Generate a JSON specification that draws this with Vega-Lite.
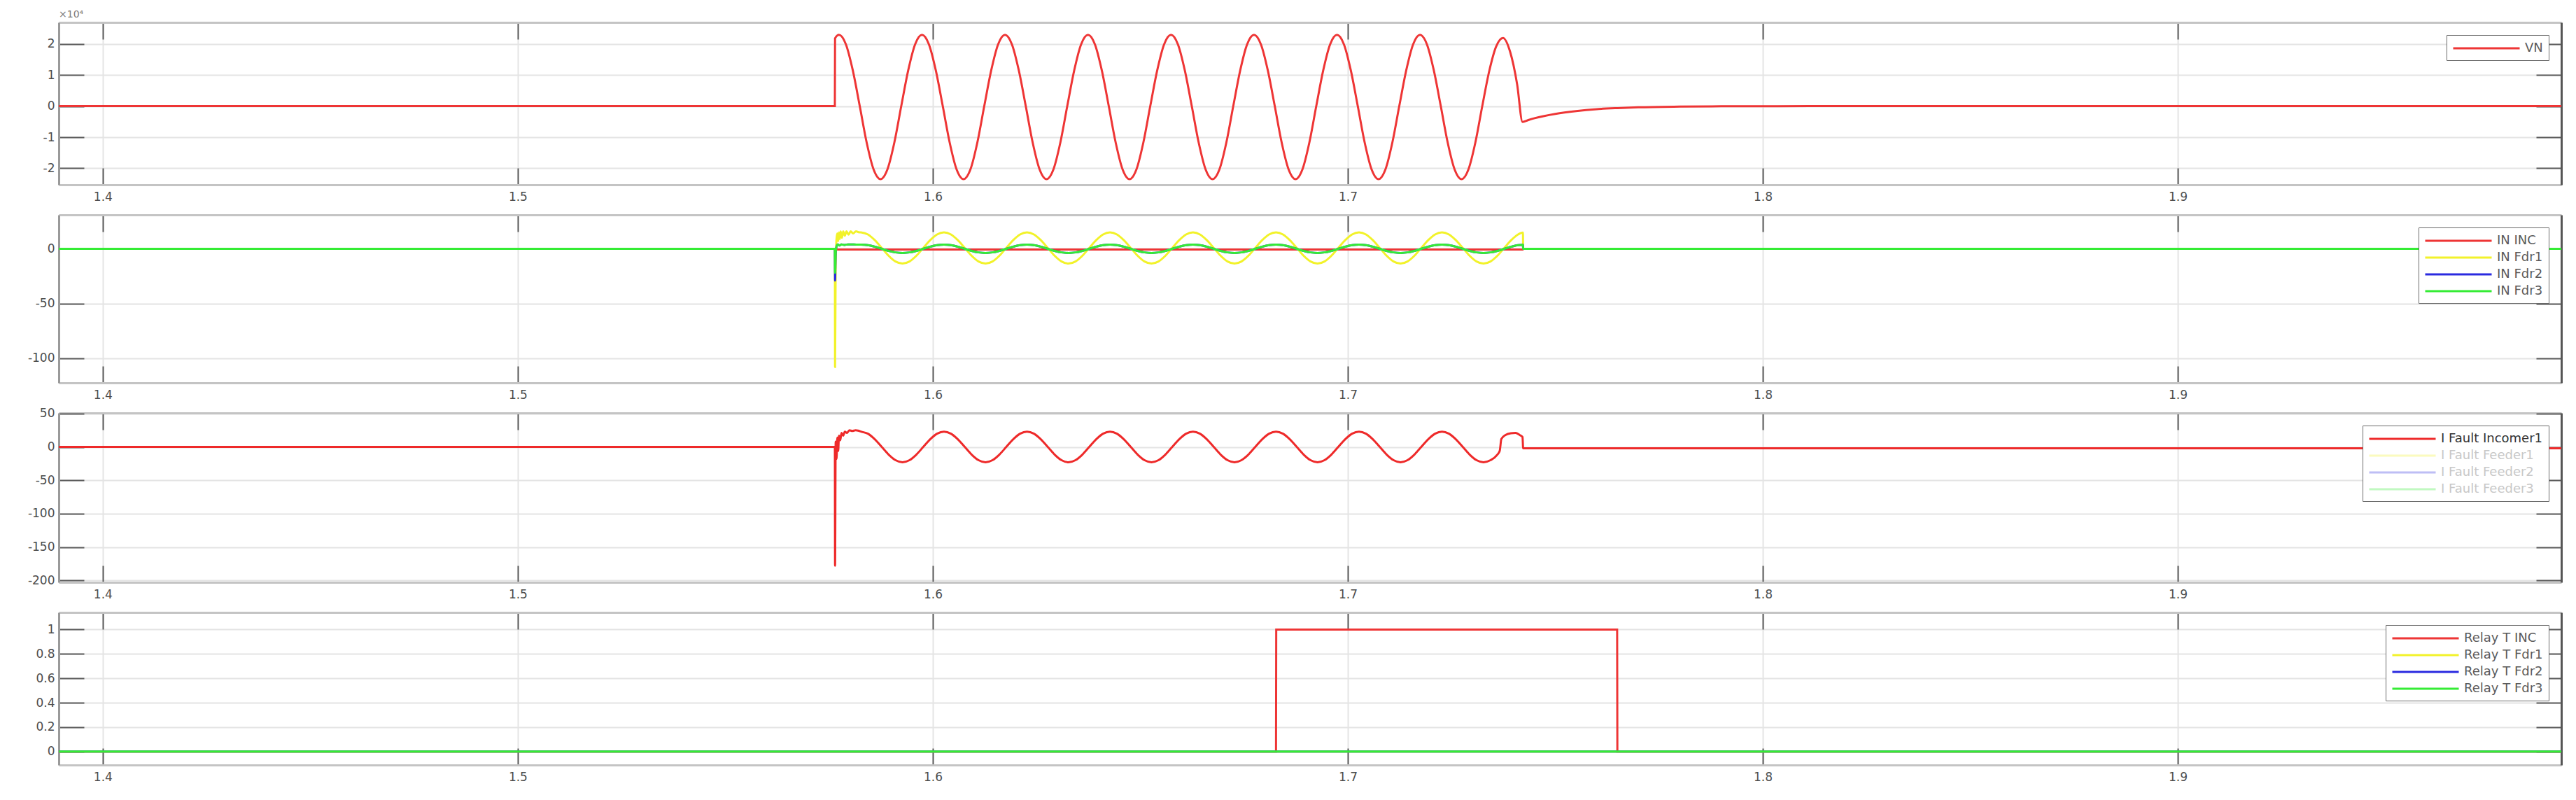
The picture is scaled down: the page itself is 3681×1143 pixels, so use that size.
{
  "$schema": "https://vega.github.io/schema/vega-lite/v6.json",
  "padding": {"left": 39, "top": 14, "right": 19, "bottom": 5},
  "background": "#ffffff",
  "spacing": 43,
  "bounds": "flush",
  "resolve": {"scale": {"color": "independent"}, "legend": {"color": "independent"}},
  "config": {
    "view": {"stroke": null},
    "font": "DejaVu Sans",
    "axis": {"labelFont": "DejaVu Sans", "labelFontSize": 17, "labelColor": "#4d4d4d", "gridColor": "#e4e4e4", "gridWidth": 2, "tickColor": "#5c5c5c", "tickWidth": 2, "domainWidth": 3, "labelFlush": false, "labelOverlap": false},
    "legend": {"orient": "top-right", "offset": 18, "symbolType": "M-1,0H9", "symbolSize": 361, "symbolStrokeWidth": 3, "labelFont": "DejaVu Sans", "labelFontSize": 18, "labelColor": "#5a5a5a", "labelOffset": 82, "rowPadding": 4, "padding": 8, "strokeColor": "#6a6a6a", "fillColor": "#ffffff"}
  },
  "datasets": {
    "p1": [
      {"t":1.3894,"v":0,"s":"VN"},{"t":1.5764,"v":0,"s":"VN"},{"t":1.57645,"v":21780,"s":"VN"},
      {"t":1.5774,"v":22900,"s":"VN"},{"t":1.57907,"v":19830,"s":"VN"},{"t":1.58073,"v":11450,"s":"VN"},{"t":1.5824,"v":0,"s":"VN"},{"t":1.58407,"v":-11750,"s":"VN"},{"t":1.58573,"v":-20350,"s":"VN"},{"t":1.5874,"v":-23500,"s":"VN"},{"t":1.58907,"v":-20350,"s":"VN"},{"t":1.59073,"v":-11750,"s":"VN"},{"t":1.5924,"v":0,"s":"VN"},{"t":1.59407,"v":11450,"s":"VN"},{"t":1.59573,"v":19830,"s":"VN"},
      {"t":1.5974,"v":22900,"s":"VN"},{"t":1.59907,"v":19830,"s":"VN"},{"t":1.60073,"v":11450,"s":"VN"},{"t":1.6024,"v":0,"s":"VN"},{"t":1.60407,"v":-11750,"s":"VN"},{"t":1.60573,"v":-20350,"s":"VN"},{"t":1.6074,"v":-23500,"s":"VN"},{"t":1.60907,"v":-20350,"s":"VN"},{"t":1.61073,"v":-11750,"s":"VN"},{"t":1.6124,"v":0,"s":"VN"},{"t":1.61407,"v":11450,"s":"VN"},{"t":1.61573,"v":19830,"s":"VN"},
      {"t":1.6174,"v":22900,"s":"VN"},{"t":1.61907,"v":19830,"s":"VN"},{"t":1.62073,"v":11450,"s":"VN"},{"t":1.6224,"v":0,"s":"VN"},{"t":1.62407,"v":-11750,"s":"VN"},{"t":1.62573,"v":-20350,"s":"VN"},{"t":1.6274,"v":-23500,"s":"VN"},{"t":1.62907,"v":-20350,"s":"VN"},{"t":1.63073,"v":-11750,"s":"VN"},{"t":1.6324,"v":0,"s":"VN"},{"t":1.63407,"v":11450,"s":"VN"},{"t":1.63573,"v":19830,"s":"VN"},
      {"t":1.6374,"v":22900,"s":"VN"},{"t":1.63907,"v":19830,"s":"VN"},{"t":1.64073,"v":11450,"s":"VN"},{"t":1.6424,"v":0,"s":"VN"},{"t":1.64407,"v":-11750,"s":"VN"},{"t":1.64573,"v":-20350,"s":"VN"},{"t":1.6474,"v":-23500,"s":"VN"},{"t":1.64907,"v":-20350,"s":"VN"},{"t":1.65073,"v":-11750,"s":"VN"},{"t":1.6524,"v":0,"s":"VN"},{"t":1.65407,"v":11450,"s":"VN"},{"t":1.65573,"v":19830,"s":"VN"},
      {"t":1.6574,"v":22900,"s":"VN"},{"t":1.65907,"v":19830,"s":"VN"},{"t":1.66073,"v":11450,"s":"VN"},{"t":1.6624,"v":0,"s":"VN"},{"t":1.66407,"v":-11750,"s":"VN"},{"t":1.66573,"v":-20350,"s":"VN"},{"t":1.6674,"v":-23500,"s":"VN"},{"t":1.66907,"v":-20350,"s":"VN"},{"t":1.67073,"v":-11750,"s":"VN"},{"t":1.6724,"v":0,"s":"VN"},{"t":1.67407,"v":11450,"s":"VN"},{"t":1.67573,"v":19830,"s":"VN"},
      {"t":1.6774,"v":22900,"s":"VN"},{"t":1.67907,"v":19830,"s":"VN"},{"t":1.68073,"v":11450,"s":"VN"},{"t":1.6824,"v":0,"s":"VN"},{"t":1.68407,"v":-11750,"s":"VN"},{"t":1.68573,"v":-20350,"s":"VN"},{"t":1.6874,"v":-23500,"s":"VN"},{"t":1.68907,"v":-20350,"s":"VN"},{"t":1.69073,"v":-11750,"s":"VN"},{"t":1.6924,"v":0,"s":"VN"},{"t":1.69407,"v":11450,"s":"VN"},{"t":1.69573,"v":19830,"s":"VN"},
      {"t":1.6974,"v":22900,"s":"VN"},{"t":1.69907,"v":19830,"s":"VN"},{"t":1.70073,"v":11450,"s":"VN"},{"t":1.7024,"v":0,"s":"VN"},{"t":1.70407,"v":-11750,"s":"VN"},{"t":1.70573,"v":-20350,"s":"VN"},{"t":1.7074,"v":-23500,"s":"VN"},{"t":1.70907,"v":-20350,"s":"VN"},{"t":1.71073,"v":-11750,"s":"VN"},{"t":1.7124,"v":0,"s":"VN"},{"t":1.71407,"v":11450,"s":"VN"},{"t":1.71573,"v":19830,"s":"VN"},
      {"t":1.7174,"v":22900,"s":"VN"},{"t":1.71907,"v":19830,"s":"VN"},{"t":1.72073,"v":11450,"s":"VN"},{"t":1.7224,"v":0,"s":"VN"},{"t":1.72407,"v":-11750,"s":"VN"},{"t":1.72573,"v":-20350,"s":"VN"},{"t":1.7274,"v":-23500,"s":"VN"},{"t":1.72907,"v":-20350,"s":"VN"},{"t":1.73073,"v":-11750,"s":"VN"},{"t":1.7324,"v":0,"s":"VN"},{"t":1.73407,"v":11200,"s":"VN"},{"t":1.73573,"v":19100,"s":"VN"},
      {"t":1.7374,"v":21900,"s":"VN"},{"t":1.7391,"v":17500,"s":"VN"},{"t":1.7408,"v":7000,"s":"VN"},{"t":1.7421,"v":-5100,"s":"VN"},{"t":1.7435,"v":-4500,"s":"VN"},{"t":1.745,"v":-3900,"s":"VN"},{"t":1.75,"v":-2500,"s":"VN"},{"t":1.755,"v":-1600,"s":"VN"},{"t":1.76,"v":-1000,"s":"VN"},{"t":1.765,"v":-650,"s":"VN"},{"t":1.77,"v":-400,"s":"VN"},{"t":1.78,"v":-170,"s":"VN"},{"t":1.79,"v":-70,"s":"VN"},{"t":1.8,"v":-25,"s":"VN"},{"t":1.82,"v":0,"s":"VN"},{"t":1.9924,"v":0,"s":"VN"}
    ],
    "p2": [
      {"t":1.3894,"v":0,"s":"IN INC"},{"t":1.5764,"v":0,"s":"IN INC"},{"t":1.57645,"v":-0.6,"s":"IN INC"},{"t":1.7422,"v":-0.6,"s":"IN INC"},{"t":1.74225,"v":0,"s":"IN INC"},{"t":1.9924,"v":0,"s":"IN INC"},

      {"t":1.3894,"v":0,"s":"IN Fdr1"},{"t":1.5764,"v":0,"s":"IN Fdr1"},{"t":1.57645,"v":-108,"s":"IN Fdr1"},{"t":1.5766,"v":-15,"s":"IN Fdr1"},{"t":1.5768,"v":9,"s":"IN Fdr1"},{"t":1.577,"v":14,"s":"IN Fdr1"},{"t":1.5772,"v":7,"s":"IN Fdr1"},{"t":1.5774,"v":15,"s":"IN Fdr1"},{"t":1.5776,"v":9,"s":"IN Fdr1"},{"t":1.5778,"v":16,"s":"IN Fdr1"},{"t":1.5781,"v":10,"s":"IN Fdr1"},{"t":1.5784,"v":16,"s":"IN Fdr1"},{"t":1.5788,"v":12,"s":"IN Fdr1"},{"t":1.5792,"v":16,"s":"IN Fdr1"},{"t":1.5797,"v":13,"s":"IN Fdr1"},{"t":1.5802,"v":16,"s":"IN Fdr1"},{"t":1.5808,"v":14,"s":"IN Fdr1"},{"t":1.5815,"v":16,"s":"IN Fdr1"},{"t":1.5821,"v":15.2,"s":"IN Fdr1"},
      {"t":1.5827,"v":15,"s":"IN Fdr1"},{"t":1.58437,"v":13.1,"s":"IN Fdr1"},{"t":1.58603,"v":7.9,"s":"IN Fdr1"},{"t":1.5877,"v":0.75,"s":"IN Fdr1"},{"t":1.58937,"v":-6.4,"s":"IN Fdr1"},{"t":1.59103,"v":-11.6,"s":"IN Fdr1"},{"t":1.5927,"v":-13.5,"s":"IN Fdr1"},{"t":1.59437,"v":-11.6,"s":"IN Fdr1"},{"t":1.59603,"v":-6.4,"s":"IN Fdr1"},{"t":1.5977,"v":0.75,"s":"IN Fdr1"},{"t":1.59937,"v":7.9,"s":"IN Fdr1"},{"t":1.60103,"v":13.1,"s":"IN Fdr1"},
      {"t":1.6027,"v":15,"s":"IN Fdr1"},{"t":1.60437,"v":13.1,"s":"IN Fdr1"},{"t":1.60603,"v":7.9,"s":"IN Fdr1"},{"t":1.6077,"v":0.75,"s":"IN Fdr1"},{"t":1.60937,"v":-6.4,"s":"IN Fdr1"},{"t":1.61103,"v":-11.6,"s":"IN Fdr1"},{"t":1.6127,"v":-13.5,"s":"IN Fdr1"},{"t":1.61437,"v":-11.6,"s":"IN Fdr1"},{"t":1.61603,"v":-6.4,"s":"IN Fdr1"},{"t":1.6177,"v":0.75,"s":"IN Fdr1"},{"t":1.61937,"v":7.9,"s":"IN Fdr1"},{"t":1.62103,"v":13.1,"s":"IN Fdr1"},
      {"t":1.6227,"v":15,"s":"IN Fdr1"},{"t":1.62437,"v":13.1,"s":"IN Fdr1"},{"t":1.62603,"v":7.9,"s":"IN Fdr1"},{"t":1.6277,"v":0.75,"s":"IN Fdr1"},{"t":1.62937,"v":-6.4,"s":"IN Fdr1"},{"t":1.63103,"v":-11.6,"s":"IN Fdr1"},{"t":1.6327,"v":-13.5,"s":"IN Fdr1"},{"t":1.63437,"v":-11.6,"s":"IN Fdr1"},{"t":1.63603,"v":-6.4,"s":"IN Fdr1"},{"t":1.6377,"v":0.75,"s":"IN Fdr1"},{"t":1.63937,"v":7.9,"s":"IN Fdr1"},{"t":1.64103,"v":13.1,"s":"IN Fdr1"},
      {"t":1.6427,"v":15,"s":"IN Fdr1"},{"t":1.64437,"v":13.1,"s":"IN Fdr1"},{"t":1.64603,"v":7.9,"s":"IN Fdr1"},{"t":1.6477,"v":0.75,"s":"IN Fdr1"},{"t":1.64937,"v":-6.4,"s":"IN Fdr1"},{"t":1.65103,"v":-11.6,"s":"IN Fdr1"},{"t":1.6527,"v":-13.5,"s":"IN Fdr1"},{"t":1.65437,"v":-11.6,"s":"IN Fdr1"},{"t":1.65603,"v":-6.4,"s":"IN Fdr1"},{"t":1.6577,"v":0.75,"s":"IN Fdr1"},{"t":1.65937,"v":7.9,"s":"IN Fdr1"},{"t":1.66103,"v":13.1,"s":"IN Fdr1"},
      {"t":1.6627,"v":15,"s":"IN Fdr1"},{"t":1.66437,"v":13.1,"s":"IN Fdr1"},{"t":1.66603,"v":7.9,"s":"IN Fdr1"},{"t":1.6677,"v":0.75,"s":"IN Fdr1"},{"t":1.66937,"v":-6.4,"s":"IN Fdr1"},{"t":1.67103,"v":-11.6,"s":"IN Fdr1"},{"t":1.6727,"v":-13.5,"s":"IN Fdr1"},{"t":1.67437,"v":-11.6,"s":"IN Fdr1"},{"t":1.67603,"v":-6.4,"s":"IN Fdr1"},{"t":1.6777,"v":0.75,"s":"IN Fdr1"},{"t":1.67937,"v":7.9,"s":"IN Fdr1"},{"t":1.68103,"v":13.1,"s":"IN Fdr1"},
      {"t":1.6827,"v":15,"s":"IN Fdr1"},{"t":1.68437,"v":13.1,"s":"IN Fdr1"},{"t":1.68603,"v":7.9,"s":"IN Fdr1"},{"t":1.6877,"v":0.75,"s":"IN Fdr1"},{"t":1.68937,"v":-6.4,"s":"IN Fdr1"},{"t":1.69103,"v":-11.6,"s":"IN Fdr1"},{"t":1.6927,"v":-13.5,"s":"IN Fdr1"},{"t":1.69437,"v":-11.6,"s":"IN Fdr1"},{"t":1.69603,"v":-6.4,"s":"IN Fdr1"},{"t":1.6977,"v":0.75,"s":"IN Fdr1"},{"t":1.69937,"v":7.9,"s":"IN Fdr1"},{"t":1.70103,"v":13.1,"s":"IN Fdr1"},
      {"t":1.7027,"v":15,"s":"IN Fdr1"},{"t":1.70437,"v":13.1,"s":"IN Fdr1"},{"t":1.70603,"v":7.9,"s":"IN Fdr1"},{"t":1.7077,"v":0.75,"s":"IN Fdr1"},{"t":1.70937,"v":-6.4,"s":"IN Fdr1"},{"t":1.71103,"v":-11.6,"s":"IN Fdr1"},{"t":1.7127,"v":-13.5,"s":"IN Fdr1"},{"t":1.71437,"v":-11.6,"s":"IN Fdr1"},{"t":1.71603,"v":-6.4,"s":"IN Fdr1"},{"t":1.7177,"v":0.75,"s":"IN Fdr1"},{"t":1.71937,"v":7.9,"s":"IN Fdr1"},{"t":1.72103,"v":13.1,"s":"IN Fdr1"},
      {"t":1.7227,"v":15,"s":"IN Fdr1"},{"t":1.72437,"v":13.1,"s":"IN Fdr1"},{"t":1.72603,"v":7.9,"s":"IN Fdr1"},{"t":1.7277,"v":0.75,"s":"IN Fdr1"},{"t":1.72937,"v":-6.4,"s":"IN Fdr1"},{"t":1.73103,"v":-11.6,"s":"IN Fdr1"},{"t":1.7327,"v":-13.5,"s":"IN Fdr1"},{"t":1.73437,"v":-11.6,"s":"IN Fdr1"},{"t":1.73603,"v":-6.4,"s":"IN Fdr1"},{"t":1.7377,"v":0.75,"s":"IN Fdr1"},{"t":1.73937,"v":7.9,"s":"IN Fdr1"},{"t":1.74103,"v":13.1,"s":"IN Fdr1"},
      {"t":1.7422,"v":14.8,"s":"IN Fdr1"},{"t":1.74225,"v":0,"s":"IN Fdr1"},{"t":1.9924,"v":0,"s":"IN Fdr1"},

      {"t":1.3894,"v":0,"s":"IN Fdr2"},{"t":1.5764,"v":0,"s":"IN Fdr2"},{"t":1.57645,"v":-29,"s":"IN Fdr2"},{"t":1.5766,"v":-3,"s":"IN Fdr2"},{"t":1.5768,"v":2,"s":"IN Fdr2"},{"t":1.5771,"v":4,"s":"IN Fdr2"},{"t":1.5775,"v":3,"s":"IN Fdr2"},{"t":1.578,"v":4,"s":"IN Fdr2"},{"t":1.5787,"v":3.5,"s":"IN Fdr2"},{"t":1.5795,"v":4,"s":"IN Fdr2"},{"t":1.581,"v":3.9,"s":"IN Fdr2"},
      {"t":1.5827,"v":3.8,"s":"IN Fdr2"},{"t":1.58437,"v":3.3,"s":"IN Fdr2"},{"t":1.58603,"v":1.9,"s":"IN Fdr2"},{"t":1.5877,"v":0,"s":"IN Fdr2"},{"t":1.58937,"v":-1.9,"s":"IN Fdr2"},{"t":1.59103,"v":-3.3,"s":"IN Fdr2"},{"t":1.5927,"v":-3.8,"s":"IN Fdr2"},{"t":1.59437,"v":-3.3,"s":"IN Fdr2"},{"t":1.59603,"v":-1.9,"s":"IN Fdr2"},{"t":1.5977,"v":0,"s":"IN Fdr2"},{"t":1.59937,"v":1.9,"s":"IN Fdr2"},{"t":1.60103,"v":3.3,"s":"IN Fdr2"},
      {"t":1.6027,"v":3.8,"s":"IN Fdr2"},{"t":1.60437,"v":3.3,"s":"IN Fdr2"},{"t":1.60603,"v":1.9,"s":"IN Fdr2"},{"t":1.6077,"v":0,"s":"IN Fdr2"},{"t":1.60937,"v":-1.9,"s":"IN Fdr2"},{"t":1.61103,"v":-3.3,"s":"IN Fdr2"},{"t":1.6127,"v":-3.8,"s":"IN Fdr2"},{"t":1.61437,"v":-3.3,"s":"IN Fdr2"},{"t":1.61603,"v":-1.9,"s":"IN Fdr2"},{"t":1.6177,"v":0,"s":"IN Fdr2"},{"t":1.61937,"v":1.9,"s":"IN Fdr2"},{"t":1.62103,"v":3.3,"s":"IN Fdr2"},
      {"t":1.6227,"v":3.8,"s":"IN Fdr2"},{"t":1.62437,"v":3.3,"s":"IN Fdr2"},{"t":1.62603,"v":1.9,"s":"IN Fdr2"},{"t":1.6277,"v":0,"s":"IN Fdr2"},{"t":1.62937,"v":-1.9,"s":"IN Fdr2"},{"t":1.63103,"v":-3.3,"s":"IN Fdr2"},{"t":1.6327,"v":-3.8,"s":"IN Fdr2"},{"t":1.63437,"v":-3.3,"s":"IN Fdr2"},{"t":1.63603,"v":-1.9,"s":"IN Fdr2"},{"t":1.6377,"v":0,"s":"IN Fdr2"},{"t":1.63937,"v":1.9,"s":"IN Fdr2"},{"t":1.64103,"v":3.3,"s":"IN Fdr2"},
      {"t":1.6427,"v":3.8,"s":"IN Fdr2"},{"t":1.64437,"v":3.3,"s":"IN Fdr2"},{"t":1.64603,"v":1.9,"s":"IN Fdr2"},{"t":1.6477,"v":0,"s":"IN Fdr2"},{"t":1.64937,"v":-1.9,"s":"IN Fdr2"},{"t":1.65103,"v":-3.3,"s":"IN Fdr2"},{"t":1.6527,"v":-3.8,"s":"IN Fdr2"},{"t":1.65437,"v":-3.3,"s":"IN Fdr2"},{"t":1.65603,"v":-1.9,"s":"IN Fdr2"},{"t":1.6577,"v":0,"s":"IN Fdr2"},{"t":1.65937,"v":1.9,"s":"IN Fdr2"},{"t":1.66103,"v":3.3,"s":"IN Fdr2"},
      {"t":1.6627,"v":3.8,"s":"IN Fdr2"},{"t":1.66437,"v":3.3,"s":"IN Fdr2"},{"t":1.66603,"v":1.9,"s":"IN Fdr2"},{"t":1.6677,"v":0,"s":"IN Fdr2"},{"t":1.66937,"v":-1.9,"s":"IN Fdr2"},{"t":1.67103,"v":-3.3,"s":"IN Fdr2"},{"t":1.6727,"v":-3.8,"s":"IN Fdr2"},{"t":1.67437,"v":-3.3,"s":"IN Fdr2"},{"t":1.67603,"v":-1.9,"s":"IN Fdr2"},{"t":1.6777,"v":0,"s":"IN Fdr2"},{"t":1.67937,"v":1.9,"s":"IN Fdr2"},{"t":1.68103,"v":3.3,"s":"IN Fdr2"},
      {"t":1.6827,"v":3.8,"s":"IN Fdr2"},{"t":1.68437,"v":3.3,"s":"IN Fdr2"},{"t":1.68603,"v":1.9,"s":"IN Fdr2"},{"t":1.6877,"v":0,"s":"IN Fdr2"},{"t":1.68937,"v":-1.9,"s":"IN Fdr2"},{"t":1.69103,"v":-3.3,"s":"IN Fdr2"},{"t":1.6927,"v":-3.8,"s":"IN Fdr2"},{"t":1.69437,"v":-3.3,"s":"IN Fdr2"},{"t":1.69603,"v":-1.9,"s":"IN Fdr2"},{"t":1.6977,"v":0,"s":"IN Fdr2"},{"t":1.69937,"v":1.9,"s":"IN Fdr2"},{"t":1.70103,"v":3.3,"s":"IN Fdr2"},
      {"t":1.7027,"v":3.8,"s":"IN Fdr2"},{"t":1.70437,"v":3.3,"s":"IN Fdr2"},{"t":1.70603,"v":1.9,"s":"IN Fdr2"},{"t":1.7077,"v":0,"s":"IN Fdr2"},{"t":1.70937,"v":-1.9,"s":"IN Fdr2"},{"t":1.71103,"v":-3.3,"s":"IN Fdr2"},{"t":1.7127,"v":-3.8,"s":"IN Fdr2"},{"t":1.71437,"v":-3.3,"s":"IN Fdr2"},{"t":1.71603,"v":-1.9,"s":"IN Fdr2"},{"t":1.7177,"v":0,"s":"IN Fdr2"},{"t":1.71937,"v":1.9,"s":"IN Fdr2"},{"t":1.72103,"v":3.3,"s":"IN Fdr2"},
      {"t":1.7227,"v":3.8,"s":"IN Fdr2"},{"t":1.72437,"v":3.3,"s":"IN Fdr2"},{"t":1.72603,"v":1.9,"s":"IN Fdr2"},{"t":1.7277,"v":0,"s":"IN Fdr2"},{"t":1.72937,"v":-1.9,"s":"IN Fdr2"},{"t":1.73103,"v":-3.3,"s":"IN Fdr2"},{"t":1.7327,"v":-3.8,"s":"IN Fdr2"},{"t":1.73437,"v":-3.3,"s":"IN Fdr2"},{"t":1.73603,"v":-1.9,"s":"IN Fdr2"},{"t":1.7377,"v":0,"s":"IN Fdr2"},{"t":1.73937,"v":1.9,"s":"IN Fdr2"},{"t":1.74103,"v":3.3,"s":"IN Fdr2"},
      {"t":1.7422,"v":3.7,"s":"IN Fdr2"},{"t":1.74225,"v":0,"s":"IN Fdr2"},{"t":1.9924,"v":0,"s":"IN Fdr2"},

      {"t":1.3894,"v":0,"s":"IN Fdr3"},{"t":1.5764,"v":0,"s":"IN Fdr3"},{"t":1.57645,"v":-22,"s":"IN Fdr3"},{"t":1.5766,"v":-3,"s":"IN Fdr3"},{"t":1.5768,"v":2,"s":"IN Fdr3"},{"t":1.5771,"v":4,"s":"IN Fdr3"},{"t":1.5775,"v":3,"s":"IN Fdr3"},{"t":1.578,"v":4,"s":"IN Fdr3"},{"t":1.5787,"v":3.5,"s":"IN Fdr3"},{"t":1.5795,"v":4,"s":"IN Fdr3"},{"t":1.581,"v":3.9,"s":"IN Fdr3"},
      {"t":1.5827,"v":3.8,"s":"IN Fdr3"},{"t":1.58437,"v":3.3,"s":"IN Fdr3"},{"t":1.58603,"v":1.9,"s":"IN Fdr3"},{"t":1.5877,"v":0,"s":"IN Fdr3"},{"t":1.58937,"v":-1.9,"s":"IN Fdr3"},{"t":1.59103,"v":-3.3,"s":"IN Fdr3"},{"t":1.5927,"v":-3.8,"s":"IN Fdr3"},{"t":1.59437,"v":-3.3,"s":"IN Fdr3"},{"t":1.59603,"v":-1.9,"s":"IN Fdr3"},{"t":1.5977,"v":0,"s":"IN Fdr3"},{"t":1.59937,"v":1.9,"s":"IN Fdr3"},{"t":1.60103,"v":3.3,"s":"IN Fdr3"},
      {"t":1.6027,"v":3.8,"s":"IN Fdr3"},{"t":1.60437,"v":3.3,"s":"IN Fdr3"},{"t":1.60603,"v":1.9,"s":"IN Fdr3"},{"t":1.6077,"v":0,"s":"IN Fdr3"},{"t":1.60937,"v":-1.9,"s":"IN Fdr3"},{"t":1.61103,"v":-3.3,"s":"IN Fdr3"},{"t":1.6127,"v":-3.8,"s":"IN Fdr3"},{"t":1.61437,"v":-3.3,"s":"IN Fdr3"},{"t":1.61603,"v":-1.9,"s":"IN Fdr3"},{"t":1.6177,"v":0,"s":"IN Fdr3"},{"t":1.61937,"v":1.9,"s":"IN Fdr3"},{"t":1.62103,"v":3.3,"s":"IN Fdr3"},
      {"t":1.6227,"v":3.8,"s":"IN Fdr3"},{"t":1.62437,"v":3.3,"s":"IN Fdr3"},{"t":1.62603,"v":1.9,"s":"IN Fdr3"},{"t":1.6277,"v":0,"s":"IN Fdr3"},{"t":1.62937,"v":-1.9,"s":"IN Fdr3"},{"t":1.63103,"v":-3.3,"s":"IN Fdr3"},{"t":1.6327,"v":-3.8,"s":"IN Fdr3"},{"t":1.63437,"v":-3.3,"s":"IN Fdr3"},{"t":1.63603,"v":-1.9,"s":"IN Fdr3"},{"t":1.6377,"v":0,"s":"IN Fdr3"},{"t":1.63937,"v":1.9,"s":"IN Fdr3"},{"t":1.64103,"v":3.3,"s":"IN Fdr3"},
      {"t":1.6427,"v":3.8,"s":"IN Fdr3"},{"t":1.64437,"v":3.3,"s":"IN Fdr3"},{"t":1.64603,"v":1.9,"s":"IN Fdr3"},{"t":1.6477,"v":0,"s":"IN Fdr3"},{"t":1.64937,"v":-1.9,"s":"IN Fdr3"},{"t":1.65103,"v":-3.3,"s":"IN Fdr3"},{"t":1.6527,"v":-3.8,"s":"IN Fdr3"},{"t":1.65437,"v":-3.3,"s":"IN Fdr3"},{"t":1.65603,"v":-1.9,"s":"IN Fdr3"},{"t":1.6577,"v":0,"s":"IN Fdr3"},{"t":1.65937,"v":1.9,"s":"IN Fdr3"},{"t":1.66103,"v":3.3,"s":"IN Fdr3"},
      {"t":1.6627,"v":3.8,"s":"IN Fdr3"},{"t":1.66437,"v":3.3,"s":"IN Fdr3"},{"t":1.66603,"v":1.9,"s":"IN Fdr3"},{"t":1.6677,"v":0,"s":"IN Fdr3"},{"t":1.66937,"v":-1.9,"s":"IN Fdr3"},{"t":1.67103,"v":-3.3,"s":"IN Fdr3"},{"t":1.6727,"v":-3.8,"s":"IN Fdr3"},{"t":1.67437,"v":-3.3,"s":"IN Fdr3"},{"t":1.67603,"v":-1.9,"s":"IN Fdr3"},{"t":1.6777,"v":0,"s":"IN Fdr3"},{"t":1.67937,"v":1.9,"s":"IN Fdr3"},{"t":1.68103,"v":3.3,"s":"IN Fdr3"},
      {"t":1.6827,"v":3.8,"s":"IN Fdr3"},{"t":1.68437,"v":3.3,"s":"IN Fdr3"},{"t":1.68603,"v":1.9,"s":"IN Fdr3"},{"t":1.6877,"v":0,"s":"IN Fdr3"},{"t":1.68937,"v":-1.9,"s":"IN Fdr3"},{"t":1.69103,"v":-3.3,"s":"IN Fdr3"},{"t":1.6927,"v":-3.8,"s":"IN Fdr3"},{"t":1.69437,"v":-3.3,"s":"IN Fdr3"},{"t":1.69603,"v":-1.9,"s":"IN Fdr3"},{"t":1.6977,"v":0,"s":"IN Fdr3"},{"t":1.69937,"v":1.9,"s":"IN Fdr3"},{"t":1.70103,"v":3.3,"s":"IN Fdr3"},
      {"t":1.7027,"v":3.8,"s":"IN Fdr3"},{"t":1.70437,"v":3.3,"s":"IN Fdr3"},{"t":1.70603,"v":1.9,"s":"IN Fdr3"},{"t":1.7077,"v":0,"s":"IN Fdr3"},{"t":1.70937,"v":-1.9,"s":"IN Fdr3"},{"t":1.71103,"v":-3.3,"s":"IN Fdr3"},{"t":1.7127,"v":-3.8,"s":"IN Fdr3"},{"t":1.71437,"v":-3.3,"s":"IN Fdr3"},{"t":1.71603,"v":-1.9,"s":"IN Fdr3"},{"t":1.7177,"v":0,"s":"IN Fdr3"},{"t":1.71937,"v":1.9,"s":"IN Fdr3"},{"t":1.72103,"v":3.3,"s":"IN Fdr3"},
      {"t":1.7227,"v":3.8,"s":"IN Fdr3"},{"t":1.72437,"v":3.3,"s":"IN Fdr3"},{"t":1.72603,"v":1.9,"s":"IN Fdr3"},{"t":1.7277,"v":0,"s":"IN Fdr3"},{"t":1.72937,"v":-1.9,"s":"IN Fdr3"},{"t":1.73103,"v":-3.3,"s":"IN Fdr3"},{"t":1.7327,"v":-3.8,"s":"IN Fdr3"},{"t":1.73437,"v":-3.3,"s":"IN Fdr3"},{"t":1.73603,"v":-1.9,"s":"IN Fdr3"},{"t":1.7377,"v":0,"s":"IN Fdr3"},{"t":1.73937,"v":1.9,"s":"IN Fdr3"},{"t":1.74103,"v":3.3,"s":"IN Fdr3"},
      {"t":1.7422,"v":3.7,"s":"IN Fdr3"},{"t":1.74225,"v":0,"s":"IN Fdr3"},{"t":1.9924,"v":0,"s":"IN Fdr3"}
    ],
    "p3": [
      {"t":1.3894,"v":0,"s":"I Fault Incomer1"},{"t":1.5764,"v":0,"s":"I Fault Incomer1"},{"t":1.57645,"v":-178,"s":"I Fault Incomer1"},{"t":1.5766,"v":8,"s":"I Fault Incomer1"},{"t":1.5768,"v":-18,"s":"I Fault Incomer1"},{"t":1.577,"v":14,"s":"I Fault Incomer1"},{"t":1.5772,"v":-6,"s":"I Fault Incomer1"},{"t":1.5774,"v":17,"s":"I Fault Incomer1"},{"t":1.5777,"v":10,"s":"I Fault Incomer1"},{"t":1.578,"v":21,"s":"I Fault Incomer1"},{"t":1.5784,"v":17,"s":"I Fault Incomer1"},{"t":1.5788,"v":23,"s":"I Fault Incomer1"},{"t":1.5793,"v":21,"s":"I Fault Incomer1"},{"t":1.5799,"v":25,"s":"I Fault Incomer1"},{"t":1.5806,"v":24,"s":"I Fault Incomer1"},{"t":1.5814,"v":25,"s":"I Fault Incomer1"},{"t":1.582,"v":24.5,"s":"I Fault Incomer1"},
      {"t":1.5827,"v":23,"s":"I Fault Incomer1"},{"t":1.58437,"v":19.9,"s":"I Fault Incomer1"},{"t":1.58603,"v":11.5,"s":"I Fault Incomer1"},{"t":1.5877,"v":0,"s":"I Fault Incomer1"},{"t":1.58937,"v":-11.5,"s":"I Fault Incomer1"},{"t":1.59103,"v":-19.9,"s":"I Fault Incomer1"},{"t":1.5927,"v":-23,"s":"I Fault Incomer1"},{"t":1.59437,"v":-19.9,"s":"I Fault Incomer1"},{"t":1.59603,"v":-11.5,"s":"I Fault Incomer1"},{"t":1.5977,"v":0,"s":"I Fault Incomer1"},{"t":1.59937,"v":11.5,"s":"I Fault Incomer1"},{"t":1.60103,"v":19.9,"s":"I Fault Incomer1"},
      {"t":1.6027,"v":23,"s":"I Fault Incomer1"},{"t":1.60437,"v":19.9,"s":"I Fault Incomer1"},{"t":1.60603,"v":11.5,"s":"I Fault Incomer1"},{"t":1.6077,"v":0,"s":"I Fault Incomer1"},{"t":1.60937,"v":-11.5,"s":"I Fault Incomer1"},{"t":1.61103,"v":-19.9,"s":"I Fault Incomer1"},{"t":1.6127,"v":-23,"s":"I Fault Incomer1"},{"t":1.61437,"v":-19.9,"s":"I Fault Incomer1"},{"t":1.61603,"v":-11.5,"s":"I Fault Incomer1"},{"t":1.6177,"v":0,"s":"I Fault Incomer1"},{"t":1.61937,"v":11.5,"s":"I Fault Incomer1"},{"t":1.62103,"v":19.9,"s":"I Fault Incomer1"},
      {"t":1.6227,"v":23,"s":"I Fault Incomer1"},{"t":1.62437,"v":19.9,"s":"I Fault Incomer1"},{"t":1.62603,"v":11.5,"s":"I Fault Incomer1"},{"t":1.6277,"v":0,"s":"I Fault Incomer1"},{"t":1.62937,"v":-11.5,"s":"I Fault Incomer1"},{"t":1.63103,"v":-19.9,"s":"I Fault Incomer1"},{"t":1.6327,"v":-23,"s":"I Fault Incomer1"},{"t":1.63437,"v":-19.9,"s":"I Fault Incomer1"},{"t":1.63603,"v":-11.5,"s":"I Fault Incomer1"},{"t":1.6377,"v":0,"s":"I Fault Incomer1"},{"t":1.63937,"v":11.5,"s":"I Fault Incomer1"},{"t":1.64103,"v":19.9,"s":"I Fault Incomer1"},
      {"t":1.6427,"v":23,"s":"I Fault Incomer1"},{"t":1.64437,"v":19.9,"s":"I Fault Incomer1"},{"t":1.64603,"v":11.5,"s":"I Fault Incomer1"},{"t":1.6477,"v":0,"s":"I Fault Incomer1"},{"t":1.64937,"v":-11.5,"s":"I Fault Incomer1"},{"t":1.65103,"v":-19.9,"s":"I Fault Incomer1"},{"t":1.6527,"v":-23,"s":"I Fault Incomer1"},{"t":1.65437,"v":-19.9,"s":"I Fault Incomer1"},{"t":1.65603,"v":-11.5,"s":"I Fault Incomer1"},{"t":1.6577,"v":0,"s":"I Fault Incomer1"},{"t":1.65937,"v":11.5,"s":"I Fault Incomer1"},{"t":1.66103,"v":19.9,"s":"I Fault Incomer1"},
      {"t":1.6627,"v":23,"s":"I Fault Incomer1"},{"t":1.66437,"v":19.9,"s":"I Fault Incomer1"},{"t":1.66603,"v":11.5,"s":"I Fault Incomer1"},{"t":1.6677,"v":0,"s":"I Fault Incomer1"},{"t":1.66937,"v":-11.5,"s":"I Fault Incomer1"},{"t":1.67103,"v":-19.9,"s":"I Fault Incomer1"},{"t":1.6727,"v":-23,"s":"I Fault Incomer1"},{"t":1.67437,"v":-19.9,"s":"I Fault Incomer1"},{"t":1.67603,"v":-11.5,"s":"I Fault Incomer1"},{"t":1.6777,"v":0,"s":"I Fault Incomer1"},{"t":1.67937,"v":11.5,"s":"I Fault Incomer1"},{"t":1.68103,"v":19.9,"s":"I Fault Incomer1"},
      {"t":1.6827,"v":23,"s":"I Fault Incomer1"},{"t":1.68437,"v":19.9,"s":"I Fault Incomer1"},{"t":1.68603,"v":11.5,"s":"I Fault Incomer1"},{"t":1.6877,"v":0,"s":"I Fault Incomer1"},{"t":1.68937,"v":-11.5,"s":"I Fault Incomer1"},{"t":1.69103,"v":-19.9,"s":"I Fault Incomer1"},{"t":1.6927,"v":-23,"s":"I Fault Incomer1"},{"t":1.69437,"v":-19.9,"s":"I Fault Incomer1"},{"t":1.69603,"v":-11.5,"s":"I Fault Incomer1"},{"t":1.6977,"v":0,"s":"I Fault Incomer1"},{"t":1.69937,"v":11.5,"s":"I Fault Incomer1"},{"t":1.70103,"v":19.9,"s":"I Fault Incomer1"},
      {"t":1.7027,"v":23,"s":"I Fault Incomer1"},{"t":1.70437,"v":19.9,"s":"I Fault Incomer1"},{"t":1.70603,"v":11.5,"s":"I Fault Incomer1"},{"t":1.7077,"v":0,"s":"I Fault Incomer1"},{"t":1.70937,"v":-11.5,"s":"I Fault Incomer1"},{"t":1.71103,"v":-19.9,"s":"I Fault Incomer1"},{"t":1.7127,"v":-23,"s":"I Fault Incomer1"},{"t":1.71437,"v":-19.9,"s":"I Fault Incomer1"},{"t":1.71603,"v":-11.5,"s":"I Fault Incomer1"},{"t":1.7177,"v":0,"s":"I Fault Incomer1"},{"t":1.71937,"v":11.5,"s":"I Fault Incomer1"},{"t":1.72103,"v":19.9,"s":"I Fault Incomer1"},
      {"t":1.7227,"v":23,"s":"I Fault Incomer1"},{"t":1.72437,"v":19.9,"s":"I Fault Incomer1"},{"t":1.72603,"v":11.5,"s":"I Fault Incomer1"},{"t":1.7277,"v":0,"s":"I Fault Incomer1"},{"t":1.72937,"v":-11.5,"s":"I Fault Incomer1"},{"t":1.73103,"v":-19.9,"s":"I Fault Incomer1"},{"t":1.7327,"v":-23,"s":"I Fault Incomer1"},{"t":1.73437,"v":-19.9,"s":"I Fault Incomer1"},{"t":1.73603,"v":-11.5,"s":"I Fault Incomer1"},{"t":1.7366,"v":-6,"s":"I Fault Incomer1"},{"t":1.737,"v":12,"s":"I Fault Incomer1"},{"t":1.738,"v":18,"s":"I Fault Incomer1"},{"t":1.7393,"v":20.5,"s":"I Fault Incomer1"},{"t":1.7404,"v":21,"s":"I Fault Incomer1"},{"t":1.7414,"v":18,"s":"I Fault Incomer1"},{"t":1.7421,"v":15,"s":"I Fault Incomer1"},{"t":1.74225,"v":-2,"s":"I Fault Incomer1"},{"t":1.9924,"v":-2,"s":"I Fault Incomer1"}
    ],
    "p4": [
      {"t":1.3894,"v":0,"s":"Relay T INC"},{"t":1.6827,"v":0,"s":"Relay T INC"},{"t":1.68275,"v":1,"s":"Relay T INC"},{"t":1.7649,"v":1,"s":"Relay T INC"},{"t":1.76495,"v":0,"s":"Relay T INC"},{"t":1.9924,"v":0,"s":"Relay T INC"},
      {"t":1.3894,"v":0,"s":"Relay T Fdr1"},{"t":1.9924,"v":0,"s":"Relay T Fdr1"},
      {"t":1.3894,"v":0,"s":"Relay T Fdr2"},{"t":1.9924,"v":0,"s":"Relay T Fdr2"},
      {"t":1.3894,"v":0,"s":"Relay T Fdr3"},{"t":1.9924,"v":0,"s":"Relay T Fdr3"}
    ]
  },
  "vconcat": [
    {
      "width": 3576, "height": 232,
      "title": {"text": "×10⁴", "anchor": "start", "frame": "group", "fontSize": 14, "fontWeight": "normal", "color": "#7a7a7a", "offset": 3, "font": "DejaVu Sans"},
      "data": {"name": "p1"},
      "layer": [
        {
          "mark": {"type": "line", "interpolate": "monotone", "strokeWidth": 3},
          "encoding": {
            "x": {"field": "t", "type": "quantitative", "scale": {"domain": [1.3894, 1.9924], "nice": false, "zero": false}, "axis": {"orient": "bottom", "title": null, "values": [1.4, 1.5, 1.6, 1.7, 1.8, 1.9], "labelExpr": "format(datum.value, '.1f')", "tickSize": -24, "labelPadding": 33, "grid": true, "domainColor": "#c4c4c4"}},
            "y": {"field": "v", "type": "quantitative", "scale": {"domain": [-25300, 26900], "nice": false, "zero": false}, "axis": {"orient": "left", "title": null, "values": [-20000, -10000, 0, 10000, 20000], "labelExpr": "datum.value / 10000 + ''", "tickSize": -36, "labelPadding": 42, "grid": true, "domainColor": "#9a9a9a"}},
            "color": {"field": "s", "type": "nominal", "scale": {"domain": ["VN"], "range": ["#ee3535"]}, "legend": {"title": null}}
          }
        },
        {
          "mark": {"type": "line", "opacity": 0},
          "encoding": {
            "x": {"field": "t", "type": "quantitative", "scale": {"domain": [1.3894, 1.9924], "nice": false, "zero": false}, "axis": {"orient": "top", "title": null, "values": [1.4, 1.5, 1.6, 1.7, 1.8, 1.9], "labels": false, "tickSize": -24, "grid": false, "domainColor": "#c4c4c4"}},
            "y": {"field": "v", "type": "quantitative", "scale": {"domain": [-25300, 26900], "nice": false, "zero": false}, "axis": {"orient": "right", "title": null, "values": [-20000, -10000, 0, 10000, 20000], "labels": false, "tickSize": -36, "grid": false, "domainColor": "#555555"}}
          }
        }
      ],
      "resolve": {"axis": {"x": "independent", "y": "independent"}}
    },
    {
      "width": 3576, "height": 240,
      "data": {"name": "p2"},
      "layer": [
        {
          "mark": {"type": "line", "interpolate": "monotone", "strokeWidth": 3},
          "encoding": {
            "x": {"field": "t", "type": "quantitative", "scale": {"domain": [1.3894, 1.9924], "nice": false, "zero": false}, "axis": {"orient": "bottom", "title": null, "values": [1.4, 1.5, 1.6, 1.7, 1.8, 1.9], "labelExpr": "format(datum.value, '.1f')", "tickSize": -24, "labelPadding": 33, "grid": true, "domainColor": "#c4c4c4"}},
            "y": {"field": "v", "type": "quantitative", "scale": {"domain": [-122.5, 31], "nice": false, "zero": false}, "axis": {"orient": "left", "title": null, "values": [-100, -50, 0], "labelExpr": "datum.value + ''", "tickSize": -36, "labelPadding": 42, "grid": true, "domainColor": "#9a9a9a"}},
            "color": {"field": "s", "type": "nominal", "scale": {"domain": ["IN INC", "IN Fdr1", "IN Fdr2", "IN Fdr3"], "range": ["#ee3535", "#f2f22a", "#2a2ae0", "#35ec35"]}, "legend": {"title": null}}
          }
        },
        {
          "mark": {"type": "line", "opacity": 0},
          "encoding": {
            "x": {"field": "t", "type": "quantitative", "scale": {"domain": [1.3894, 1.9924], "nice": false, "zero": false}, "axis": {"orient": "top", "title": null, "values": [1.4, 1.5, 1.6, 1.7, 1.8, 1.9], "labels": false, "tickSize": -24, "grid": false, "domainColor": "#c4c4c4"}},
            "y": {"field": "v", "type": "quantitative", "scale": {"domain": [-122.5, 31], "nice": false, "zero": false}, "axis": {"orient": "right", "title": null, "values": [-100, -50, 0], "labels": false, "tickSize": -36, "grid": false, "domainColor": "#555555"}}
          }
        }
      ],
      "resolve": {"axis": {"x": "independent", "y": "independent"}}
    },
    {
      "width": 3576, "height": 242,
      "data": {"name": "p3"},
      "layer": [
        {
          "mark": {"type": "line", "interpolate": "monotone", "strokeWidth": 3},
          "encoding": {
            "x": {"field": "t", "type": "quantitative", "scale": {"domain": [1.3894, 1.9924], "nice": false, "zero": false}, "axis": {"orient": "bottom", "title": null, "values": [1.4, 1.5, 1.6, 1.7, 1.8, 1.9], "labelExpr": "format(datum.value, '.1f')", "tickSize": -24, "labelPadding": 33, "grid": true, "domainColor": "#c4c4c4"}},
            "y": {"field": "v", "type": "quantitative", "scale": {"domain": [-203, 51], "nice": false, "zero": false}, "axis": {"orient": "left", "title": null, "values": [-200, -150, -100, -50, 0, 50], "labelExpr": "datum.value + ''", "tickSize": -36, "labelPadding": 42, "grid": true, "domainColor": "#9a9a9a"}},
            "color": {"field": "s", "type": "nominal", "scale": {"domain": ["I Fault Incomer1", "I Fault Feeder1", "I Fault Feeder2", "I Fault Feeder3"], "range": ["#ee2a2a", "#f2f22a", "#2a2ae0", "#35ec35"]}, "legend": {"title": null, "encode": {"symbols": {"update": {"opacity": {"signal": "datum.label === 'I Fault Incomer1' ? 1 : 0.3"}}}, "labels": {"update": {"fill": {"signal": "datum.label === 'I Fault Incomer1' ? '#333333' : '#c8c8c8'"}}}}}}
          }
        },
        {
          "mark": {"type": "line", "opacity": 0},
          "encoding": {
            "x": {"field": "t", "type": "quantitative", "scale": {"domain": [1.3894, 1.9924], "nice": false, "zero": false}, "axis": {"orient": "top", "title": null, "values": [1.4, 1.5, 1.6, 1.7, 1.8, 1.9], "labels": false, "tickSize": -24, "grid": false, "domainColor": "#c4c4c4"}},
            "y": {"field": "v", "type": "quantitative", "scale": {"domain": [-203, 51], "nice": false, "zero": false}, "axis": {"orient": "right", "title": null, "values": [-200, -150, -100, -50, 0, 50], "labels": false, "tickSize": -36, "grid": false, "domainColor": "#555555"}}
          }
        }
      ],
      "resolve": {"axis": {"x": "independent", "y": "independent"}}
    },
    {
      "width": 3576, "height": 218,
      "data": {"name": "p4"},
      "layer": [
        {
          "mark": {"type": "line", "strokeWidth": 3},
          "encoding": {
            "x": {"field": "t", "type": "quantitative", "scale": {"domain": [1.3894, 1.9924], "nice": false, "zero": false}, "axis": {"orient": "bottom", "title": null, "values": [1.4, 1.5, 1.6, 1.7, 1.8, 1.9], "labelExpr": "format(datum.value, '.1f')", "tickSize": -24, "labelPadding": 33, "grid": true, "domainColor": "#c4c4c4"}},
            "y": {"field": "v", "type": "quantitative", "scale": {"domain": [-0.11, 1.14], "nice": false, "zero": false}, "axis": {"orient": "left", "title": null, "values": [0, 0.2, 0.4, 0.6, 0.8, 1], "labelExpr": "datum.value + ''", "tickSize": -36, "labelPadding": 42, "grid": true, "domainColor": "#9a9a9a"}},
            "color": {"field": "s", "type": "nominal", "scale": {"domain": ["Relay T INC", "Relay T Fdr1", "Relay T Fdr2", "Relay T Fdr3"], "range": ["#ee3535", "#f2f22a", "#2a2ae0", "#35ec35"]}, "legend": {"title": null}}
          }
        },
        {
          "mark": {"type": "line", "opacity": 0},
          "encoding": {
            "x": {"field": "t", "type": "quantitative", "scale": {"domain": [1.3894, 1.9924], "nice": false, "zero": false}, "axis": {"orient": "top", "title": null, "values": [1.4, 1.5, 1.6, 1.7, 1.8, 1.9], "labels": false, "tickSize": -24, "grid": false, "domainColor": "#c4c4c4"}},
            "y": {"field": "v", "type": "quantitative", "scale": {"domain": [-0.11, 1.14], "nice": false, "zero": false}, "axis": {"orient": "right", "title": null, "values": [0, 0.2, 0.4, 0.6, 0.8, 1], "labels": false, "tickSize": -36, "grid": false, "domainColor": "#555555"}}
          }
        }
      ],
      "resolve": {"axis": {"x": "independent", "y": "independent"}}
    }
  ]
}
